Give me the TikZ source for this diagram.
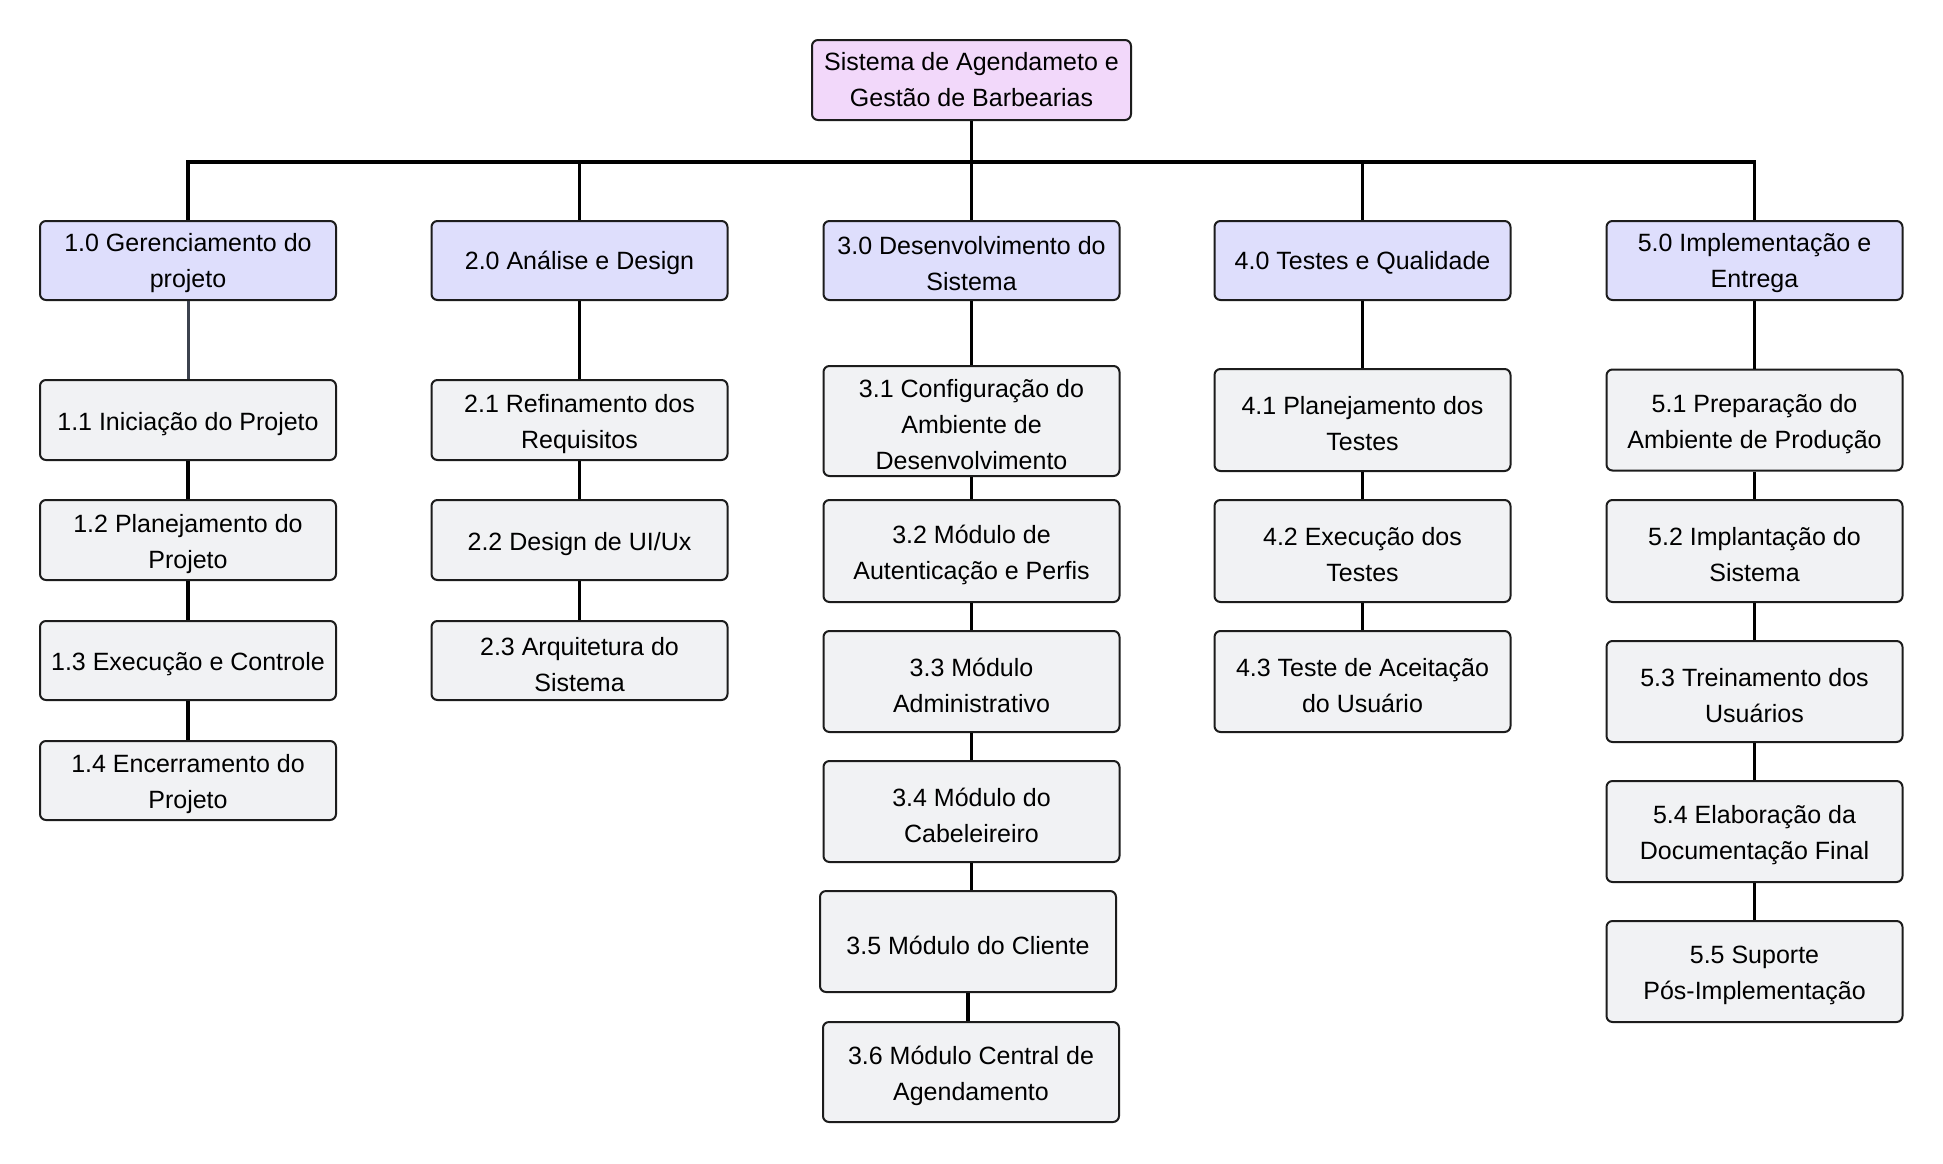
\documentclass[tikz,border=0pt]{standalone}
\usepackage{fontspec}
\setmainfont{Liberation Sans}
\definecolor{rootfill}{RGB}{242,216,250}
\definecolor{phasefill}{RGB}{222,222,252}
\definecolor{taskfill}{RGB}{241,242,244}
\definecolor{edge}{RGB}{28,28,28}
\definecolor{softedge}{RGB}{60,66,78}
\tikzset{
  box/.style={draw=edge, line width=1pt, rounded corners=3pt, inner sep=0pt},
  rootbox/.style={box, fill=rootfill, minimum width=159.5pt, minimum height=40pt},
  phasebox/.style={box, fill=phasefill, minimum width=148pt, minimum height=39.5pt},
  taskbox/.style={box, fill=taskfill, minimum width=148pt},
  txt/.style={align=center, font=\fontsize{12.5}{18}\selectfont, inner sep=0pt, text=black},
  roottxt/.style={txt},
  phasetxt/.style={txt, yshift=-1.3pt},
  tasktxt/.style={txt, yshift=-1.8pt},
  link/.style={draw=black, line width=1.8pt},
}
\begin{document}
\begin{tikzpicture}[x=0.5pt,y=-0.5pt]
\useasboundingbox[fill=white] (0,0) rectangle (1943,1163);
\coordinate (bar) at (0,162);
% root
\node[rootbox] (root) at (971.5,80) {};
\node[roottxt] (rootx) at (root) {Sistema de Agendameto e\\Gestão de Barbearias};
% phases
\node[phasebox] (p1) at (188,260.5) {};
\node[phasebox] (p2) at (579.5,260.5) {};
\node[phasebox] (p3) at (971.5,260.5) {};
\node[phasebox] (p4) at (1362.5,260.5) {};
\node[phasebox] (p5) at (1754.5,260.5) {};
\node[phasetxt] (p1x) at (p1) {1.0 Gerenciamento do\\projeto};
\node[phasetxt] (p2x) at (p2) {2.0 Análise e Design};
\node[phasetxt] (p3x) at (p3) {3.0 Desenvolvimento do\\Sistema};
\node[phasetxt] (p4x) at (p4) {4.0 Testes e Qualidade};
\node[phasetxt] (p5x) at (p5) {5.0 Implementação e\\Entrega};
% column 1
\node[taskbox, minimum height=40pt] (t11) at (188,420) {};
\node[taskbox, minimum height=40pt] (t12) at (188,540) {};
\node[taskbox, minimum height=39.5pt] (t13) at (188,660.5) {};
\node[taskbox, minimum height=39.5pt] (t14) at (188,780.5) {};
\node[tasktxt] (t11x) at (t11) {1.1 Iniciação do Projeto};
\node[tasktxt] (t12x) at (t12) {1.2 Planejamento do\\Projeto};
\node[tasktxt] (t13x) at (t13) {1.3 Execução e Controle};
\node[tasktxt] (t14x) at (t14) {1.4 Encerramento do\\Projeto};
% column 2
\node[taskbox, minimum height=40pt] (t21) at (579.5,420) {};
\node[taskbox, minimum height=40pt] (t22) at (579.5,540) {};
\node[taskbox, minimum height=39.5pt] (t23) at (579.5,660.5) {};
\node[tasktxt] (t21x) at (t21) {2.1 Refinamento dos\\Requisitos};
\node[tasktxt] (t22x) at (t22) {2.2 Design de UI/Ux};
\node[tasktxt] (t23x) at (t23) {2.3 Arquitetura do\\Sistema};
% column 3
\node[taskbox, minimum height=55pt] (t31) at (971.5,421) {};
\node[taskbox, minimum height=51pt] (t32) at (971.5,551) {};
\node[taskbox, minimum height=50.5pt] (t33) at (971.5,681.5) {};
\node[taskbox, minimum height=50.5pt] (t34) at (971.5,811.5) {};
\node[taskbox, minimum height=50.5pt] (t35) at (968,941.5) {};
\node[taskbox, minimum height=50pt] (t36) at (971,1072) {};
\node[tasktxt] (t31x) at (t31) {3.1 Configuração do\\Ambiente de\\Desenvolvimento};
\node[tasktxt] (t32x) at (t32) {3.2 Módulo de\\Autenticação e Perfis};
\node[tasktxt] (t33x) at (t33) {3.3 Módulo\\Administrativo};
\node[tasktxt] (t34x) at (t34) {3.4 Módulo do\\Cabeleireiro};
\node[tasktxt] (t35x) at (t35) {3.5 Módulo do Cliente};
\node[tasktxt] (t36x) at (t36) {3.6 Módulo Central de\\Agendamento};
% column 4
\node[taskbox, minimum height=51pt] (t41) at (1362.5,420) {};
\node[taskbox, minimum height=51pt] (t42) at (1362.5,551) {};
\node[taskbox, minimum height=50.5pt] (t43) at (1362.5,681.5) {};
\node[tasktxt] (t41x) at (t41) {4.1 Planejamento dos\\Testes};
\node[tasktxt] (t42x) at (t42) {4.2 Execução dos\\Testes};
\node[tasktxt] (t43x) at (t43) {4.3 Teste de Aceitação\\do Usuário};
% column 5
\node[taskbox, minimum height=50.5pt] (t51) at (1754.5,420) {};
\node[taskbox, minimum height=51pt] (t52) at (1754.5,551) {};
\node[taskbox, minimum height=50.5pt] (t53) at (1754.5,691.5) {};
\node[taskbox, minimum height=50.5pt] (t54) at (1754.5,831.5) {};
\node[taskbox, minimum height=50.5pt] (t55) at (1754.5,971.5) {};
\node[tasktxt] (t51x) at (t51) {5.1 Preparação do\\Ambiente de Produção};
\node[tasktxt] (t52x) at (t52) {5.2 Implantação do\\Sistema};
\node[tasktxt] (t53x) at (t53) {5.3 Treinamento dos\\Usuários};
\node[tasktxt] (t54x) at (t54) {5.4 Elaboração da\\Documentação Final};
\node[tasktxt] (t55x) at (t55) {5.5 Suporte\\Pós-Implementação};
% connectors root -> phases
\foreach \p in {p1,p2,p3,p4,p5}
  \draw[link] (root.south) -- (root.south |- bar) -| (\p.north);
% phase -> first task
\draw[draw=softedge, line width=1.5pt] (p1.south) -- (t11.north);
\draw[link] (p2.south) -- (t21.north);
\draw[link] (p3.south) -- (t31.north);
\draw[link] (p4.south) -- (t41.north);
\draw[link] (p5.south) -- (t51.north);
% chains
\draw[link] (t11.south) -- (t12.north);
\draw[link] (t12.south) -- (t13.north);
\draw[link] (t13.south) -- (t14.north);
\draw[link] (t21.south) -- (t22.north);
\draw[link] (t22.south) -- (t23.north);
\draw[link] (t31.south) -- (t32.north);
\draw[link] (t32.south) -- (t33.north);
\draw[link] (t33.south) -- (t34.north);
\draw[link] (t34.south) -- (t34.south |- t35.north);
\draw[link] (t35.south) -- (t35.south |- t36.north);
\draw[link] (t41.south) -- (t42.north);
\draw[link] (t42.south) -- (t43.north);
\draw[link] (t51.south) -- (t52.north);
\draw[link] (t52.south) -- (t53.north);
\draw[link] (t53.south) -- (t54.north);
\draw[link] (t54.south) -- (t55.north);
\end{tikzpicture}
\end{document}
